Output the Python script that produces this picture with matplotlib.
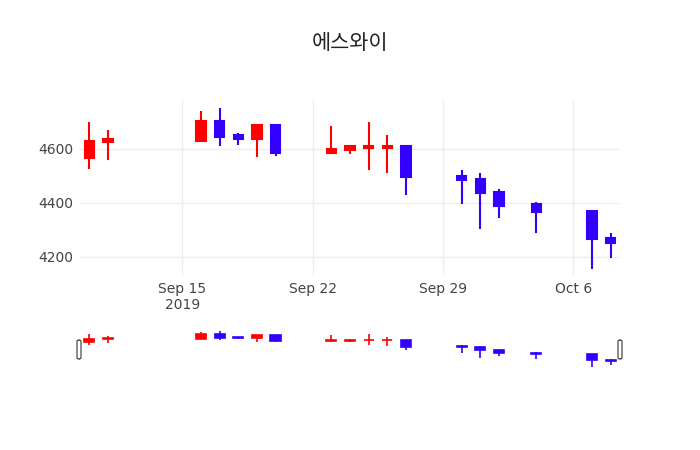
import numpy as np
import pandas as pd
import matplotlib
matplotlib.use('Agg')
import matplotlib.pyplot as plt
import matplotlib.dates as mdates
from matplotlib.patches import FancyBboxPatch

#-----------------------------------------------------------------------------
# data

dates = ['2019-09-10', '2019-09-11', '2019-09-16', '2019-09-17', '2019-09-18',
         '2019-09-19', '2019-09-20', '2019-09-23', '2019-09-24', '2019-09-25',
         '2019-09-26', '2019-09-27', '2019-09-30', '2019-10-01', '2019-10-02',
         '2019-10-04', '2019-10-07', '2019-10-08']
opens  = [4565, 4625, 4630, 4705, 4650, 4635, 4690, 4585, 4595, 4605,
          4605, 4610, 4500, 4490, 4440, 4395, 4370, 4270]
highs  = [4700, 4670, 4740, 4750, 4660, 4690, 4690, 4685, 4615, 4700,
          4650, 4610, 4520, 4510, 4450, 4405, 4370, 4290]
lows   = [4525, 4560, 4630, 4610, 4615, 4570, 4575, 4580, 4580, 4520,
          4510, 4430, 4395, 4305, 4345, 4290, 4155, 4195]
closes = [4630, 4635, 4705, 4645, 4635, 4690, 4585, 4600, 4610, 4610,
          4610, 4495, 4485, 4435, 4390, 4365, 4265, 4250]

xtick_dates = ['2019-09-15', '2019-09-22', '2019-09-29', '2019-10-06']
xtick_labels = ['Sep 15\n2019', 'Sep 22', 'Sep 29', 'Oct 6']
yticks = [4200, 4400, 4600]
title = '에스와이'

inc_color = '#ff0000'
dec_color = '#3300ff'

#-----------------------------------------------------------------------------

plt.rcParams['font.family'] = ['DejaVu Sans']
x = mdates.date2num(pd.to_datetime(dates).to_pydatetime())
o, h, l, c = map(np.array, (opens, highs, lows, closes))
cols = [inc_color if cc >= oo else dec_color for oo, cc in zip(o, c)]
xlim = (x.min() - 0.5, x.max() + 0.5)

fig = plt.figure(figsize=(7, 4.5), dpi=100)
ax = fig.add_axes([80/700, 175/450, 540/700, 175/450])
sl = fig.add_axes([80/700, 81/450, 540/700, 40/450])


def candles(a, lw_wick, width, lw_body):
    a.vlines(x, l, h, colors=cols, linewidth=lw_wick, zorder=2)
    a.bar(x, np.abs(c - o), bottom=np.minimum(o, c), width=width,
          color=cols, edgecolor=cols, linewidth=lw_body, zorder=3)


candles(ax, 1.5, 0.5, 1.5)
ax.set_xlim(*xlim)
ax.set_ylim(4133, 4781)
ax.set_yticks(yticks)
ax.set_yticklabels([str(v) for v in yticks])
ax.set_xticks(mdates.date2num(pd.to_datetime(xtick_dates).to_pydatetime()))
ax.set_xticklabels(xtick_labels)
ax.grid(True, color='#eeeeee', linewidth=1)
ax.set_axisbelow(True)
for s in ax.spines.values():
    s.set_visible(False)
ax.tick_params(length=0, labelsize=10, labelcolor='#444444', pad=5)

candles(sl, 1.2, 0.55, 1.2)
sl.set_xlim(*xlim)
sl.set_ylim(4120, 4790)
sl.axis('off')

# range slider grabbers
for px in (77, 618):
    fig.patches.append(FancyBboxPatch((px/700, 91/450), 4/700, 19/450,
                                      boxstyle='round,pad=0,rounding_size=0.003',
                                      transform=fig.transFigure,
                                      facecolor='white', edgecolor='#333333',
                                      linewidth=0.8))

fig.text(350/700, 1 - 43/450, title, ha='center', va='center', fontsize=15,
         color='#222222', family=['Noto Sans CJK KR', 'DejaVu Sans'])

fig.savefig('out.png', dpi=100)
